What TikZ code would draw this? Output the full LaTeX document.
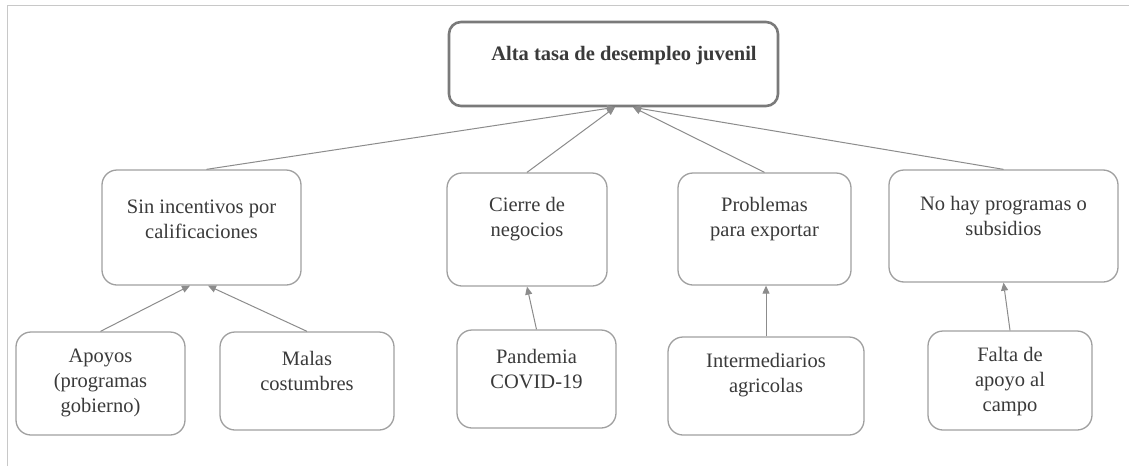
\documentclass[tikz,border=0pt]{standalone}
\usepackage{fontspec}
\setmainfont{Liberation Serif}
\usetikzlibrary{arrows.meta}
\definecolor{framegray}{HTML}{C8C8C8}
\definecolor{boxgray}{HTML}{A0A0A0}
\definecolor{topgray}{HTML}{7A7A7A}
\definecolor{linegray}{HTML}{8C8C8C}
\definecolor{txtgray}{HTML}{3A3A3A}
\begin{document}
\begin{tikzpicture}[x=1pt,y=-1pt,
  cbox/.style={draw=boxgray, line width=1.3pt, rounded corners=15pt, inner sep=0pt, fill=white},
  tbox/.style={draw=topgray, line width=2.6pt, rounded corners=12pt, inner sep=0pt, fill=white},
  txt/.style={align=center, inner sep=0pt, text=txtgray, font=\fontsize{20.5}{25}\selectfont},
  conn/.style={draw=linegray, line width=1pt, -{Triangle[length=8pt,width=7pt]}}
]
\useasboundingbox (0,0) rectangle (1129,466);
\fill[white] (0,0) rectangle (1129,466);
% frame
\draw[framegray, line width=1.5pt] (7.5,466) -- (7.5,5.5) -- (1129,5.5);

% boxes
\node[tbox, minimum width=329pt, minimum height=84pt] (top) at (613.5,64) {};
\node[cbox, minimum width=199pt, minimum height=115pt] (sin) at (201.5,227.5) {};
\node[cbox, minimum width=160pt, minimum height=113pt] (cie) at (527,229.5) {};
\node[cbox, minimum width=173pt, minimum height=112pt] (pro) at (764.5,229) {};
\node[cbox, minimum width=229pt, minimum height=112pt] (noh) at (1003.5,226) {};
\node[cbox, minimum width=169pt, minimum height=103pt] (apo) at (100.5,383.5) {};
\node[cbox, minimum width=174pt, minimum height=98pt] (mal) at (307,381) {};
\node[cbox, minimum width=159pt, minimum height=98pt] (pan) at (536.5,379) {};
\node[cbox, minimum width=196pt, minimum height=98pt] (int) at (766,386) {};
\node[cbox, minimum width=164pt, minimum height=99pt] (fal) at (1010,380.5) {};

% texts
\node[txt, font=\fontsize{20.5}{25}\selectfont\bfseries] (ttop) at (624,56) {Alta tasa de desempleo juvenil};
\node[txt] (tsin) at (201.5,219.5) {Sin incentivos por\\calificaciones};
\node[txt] (tcie) at (527,219.5) {Cierre de\\negocios};
\node[txt] (tpro) at (764.5,219.5) {Problemas\\para exportar};
\node[txt] (tnoh) at (1003.5,215.5) {No hay programas o\\subsidios};
\node[txt] (tapo) at (100.5,382.5) {Apoyos\\(programas\\gobierno)};
\node[txt] (tmal) at (307,370.5) {Malas\\costumbres};
\node[txt] (tpan) at (536.5,369.5) {Pandemia\\COVID-19};
\node[txt] (tint) at (766,375) {Intermediarios\\agricolas};
\node[txt] (tfal) at (1010,381.5) {Falta de\\apoyo al\\campo};

% connectors
\draw[conn] ([xshift=5pt]sin.north) -- ([xshift=1.5pt]top.south);
\draw[conn] (cie.north) -- ([xshift=1.5pt]top.south);
\draw[conn] (pro.north) -- ([xshift=19.5pt]top.south);
\draw[conn] (noh.north) -- ([xshift=19.5pt]top.south);
\draw[conn] (apo.north) -- ([xshift=-11.5pt]sin.south);
\draw[conn] (mal.north) -- ([xshift=6.5pt]sin.south);
\draw[conn] (pan.north) -- (cie.south);
\draw[conn] (int.north) -- ([xshift=1.5pt]pro.south);
\draw[conn] (fal.north) -- (noh.south);
\end{tikzpicture}
\end{document}
